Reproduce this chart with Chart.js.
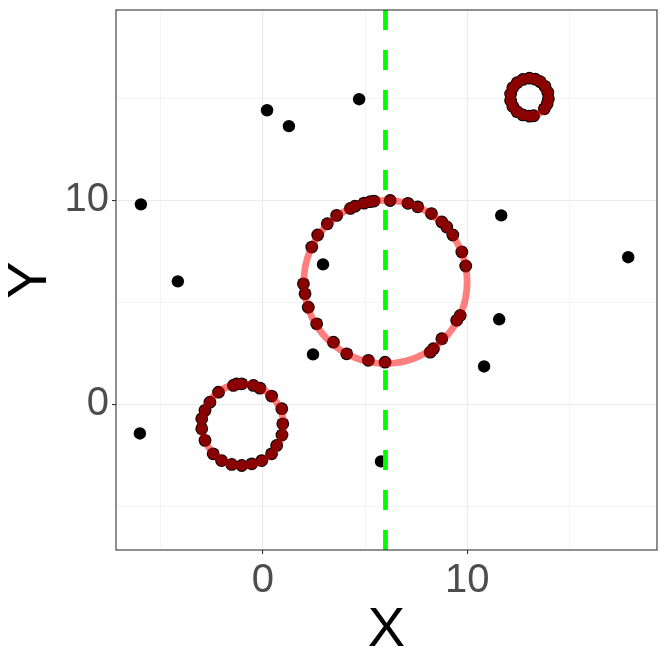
<!DOCTYPE html>
<html>
<head>
<meta charset="utf-8">
<script src="https://cdn.jsdelivr.net/npm/chart.js@4"></script>
<style>
html,body{margin:0;padding:0;background:#fff;}
#wrap{width:664px;height:664px;}
</style>
</head>
<body>
<div id="wrap"><canvas id="c" width="664" height="664"></canvas></div>
<script>
// ---- data ----
const noiseX = [-5.98, -4.17, -6.03, 0.20, 1.27, 4.71, 2.94, 2.45, 5.78, 11.67, 17.89, 11.57, 10.83];
const noiseY = [9.80, 6.03, -1.42, 14.41, 13.63, 14.95, 6.86, 2.45, -2.79, 9.26, 7.21, 4.17, 1.86];

const bigRingX = [4.95, 5.25, 5.44, 6.23, 7.10, 7.58, 8.25, 8.76, 9.00, 9.30, 9.74, 9.93, 4.28, 4.51, 3.61, 3.15, 2.68, 2.39, 1.98, 2.06, 2.22, 2.63, 3.45, 4.10, 5.16, 5.98, 9.66, 9.49, 8.76, 8.35, 8.19];
const bigRingY = [9.86, 9.93, 9.96, 9.99, 9.85, 9.68, 9.35, 8.94, 8.69, 8.30, 7.47, 6.78, 9.60, 9.71, 9.26, 8.85, 8.30, 7.71, 5.91, 5.42, 4.76, 3.95, 3.05, 2.48, 2.16, 2.07, 4.36, 4.12, 3.22, 2.73, 2.56];

const smallRingX = [-1.29, -1.45, -1.04, -2.18, -0.47, -0.15, 0.42, 0.92, 0.97, 0.93, 0.67, 0.42, -0.06, -0.55, -1.04, -1.53, -2.03, -2.44, -2.84, -3.00, -3.00, -2.84, -2.60];
const smallRingY = [1.01, 0.93, 1.01, 0.60, 0.93, 0.80, 0.41, -0.21, -0.95, -1.50, -2.01, -2.42, -2.75, -2.91, -2.99, -2.94, -2.75, -2.42, -1.76, -1.19, -0.70, -0.29, 0.11];

const topRingX = [13.05, 12.73, 12.45, 12.24, 12.13, 12.13, 12.24, 12.45, 12.73, 13.05, 13.26, 13.78, 13.92, 13.98, 13.95, 13.81, 13.58, 13.34];
const topRingY = [15.98, 15.92, 15.76, 15.52, 15.21, 14.89, 14.59, 14.34, 14.18, 14.12, 14.14, 14.48, 14.73, 14.97, 15.29, 15.58, 15.81, 15.93];

const circleCX = [6, -1, 13.05];
const circleCY = [6, -1, 15.05];
const circleR  = [4, 2, 0.93];

const vlineX = 6;

const tickValues = [-5, 0, 5, 10, 15];
const labelTicks = [0, 10];

// ---- helpers ----
function pts(xs, ys){ return xs.map((x,i)=>({x:x, y:ys[i]})); }
const ringPts = pts(bigRingX, bigRingY).concat(pts(smallRingX, smallRingY), pts(topRingX, topRingY));

const FONT = "'Liberation Sans', Arial, sans-serif";
const isMajor = v => labelTicks.includes(v);

const overlay = {
  id: 'overlay',
  afterDatasetDraw(chart, args){
    if (args.index !== 1) return;
    const ctx = chart.ctx, xs = chart.scales.x, ys = chart.scales.y;
    ctx.save();
    const a = chart.chartArea;
    ctx.beginPath(); ctx.rect(a.left, a.top, a.right-a.left, a.bottom-a.top); ctx.clip();
    ctx.strokeStyle = 'rgba(255,0,0,0.5)';
    ctx.lineWidth = 6.8;
    for (let i=0;i<circleCX.length;i++){
      const cx = xs.getPixelForValue(circleCX[i]);
      const cy = ys.getPixelForValue(circleCY[i]);
      const rx = Math.abs(xs.getPixelForValue(circleCX[i]+circleR[i]) - cx);
      const ry = Math.abs(ys.getPixelForValue(circleCY[i]+circleR[i]) - cy);
      ctx.beginPath();
      ctx.ellipse(cx, cy, rx, ry, 0, 0, Math.PI*2);
      ctx.stroke();
    }
    ctx.restore();
  },
  afterDatasetsDraw(chart){
    const ctx = chart.ctx, xs = chart.scales.x, a = chart.chartArea;
    ctx.save();
    const px = xs.getPixelForValue(vlineX);
    ctx.strokeStyle = '#00FF00';
    ctx.lineWidth = 4.8;
    ctx.setLineDash([20,20]);
    ctx.beginPath(); ctx.moveTo(px, a.top); ctx.lineTo(px, a.bottom); ctx.stroke();
    ctx.setLineDash([]);
    ctx.strokeStyle = '#333333';
    ctx.lineWidth = 1.1;
    ctx.strokeRect(a.left, a.top, a.right-a.left, a.bottom-a.top);
    ctx.restore();
  }
};

function axisCommon(min, max, title, titlePad){
  return {
    type: 'linear', min: min, max: max,
    afterBuildTicks: s => { s.ticks = tickValues.map(v=>({value:v})); },
    ticks: {
      autoSkip: false, maxRotation: 0, minRotation: 0,
      callback: v => isMajor(v) ? String(v) : '',
      font: {family: FONT, size: 40},
      color: '#4D4D4D',
      padding: 3
    },
    grid: {
      color: '#EBEBEB',
      lineWidth: c => isMajor(c.tick && c.tick.value) ? 1.1 : 0.55,
      tickLength: 4,
      tickColor: c => isMajor(c.tick && c.tick.value) ? '#333333' : 'rgba(0,0,0,0)',
      tickWidth: 1.1
    },
    border: {display: false},
    title: {display: true, text: title, color: '#000000', font: {family: FONT, size: 56}, padding: titlePad}
  };
}

const xAxis = axisCommon(-7.2, 19.3, 'X', {top: 0, bottom: 0});
xAxis.position = 'bottom';
xAxis.afterFit = s => { s.height = 114; s.paddingLeft = 0; s.paddingRight = 0; };
const yAxis = axisCommon(-7.13, 19.32, 'Y', {top: -3, bottom: 0});
yAxis.position = 'left';
yAxis.afterFit = s => { s.width = 116; s.paddingTop = 0; s.paddingBottom = 0; };

new Chart(document.getElementById('c'), {
  type: 'scatter',
  data: {
    datasets: [
      {label: 'fit', data: ringPts, backgroundColor: '#8B0000', borderWidth: 0, pointRadius: 5.4, pointHoverRadius: 5.4, order: 1},
      {label: 'ringRaw', data: ringPts, backgroundColor: '#000000', borderWidth: 0, pointRadius: 6.4, pointHoverRadius: 6.4, order: 2},
      {label: 'raw', data: pts(noiseX, noiseY), backgroundColor: '#000000', borderWidth: 0, pointRadius: 6.2, pointHoverRadius: 6.2, order: 3}
    ]
  },
  options: {
    responsive: false,
    animation: false,
    devicePixelRatio: 1,
    layout: {padding: {top: 10, right: 7, left: 0, bottom: 0}},
    plugins: {legend: {display: false}, tooltip: {enabled: false}},
    scales: {x: xAxis, y: yAxis}
  },
  plugins: [overlay]
});
</script>
</body>
</html>
